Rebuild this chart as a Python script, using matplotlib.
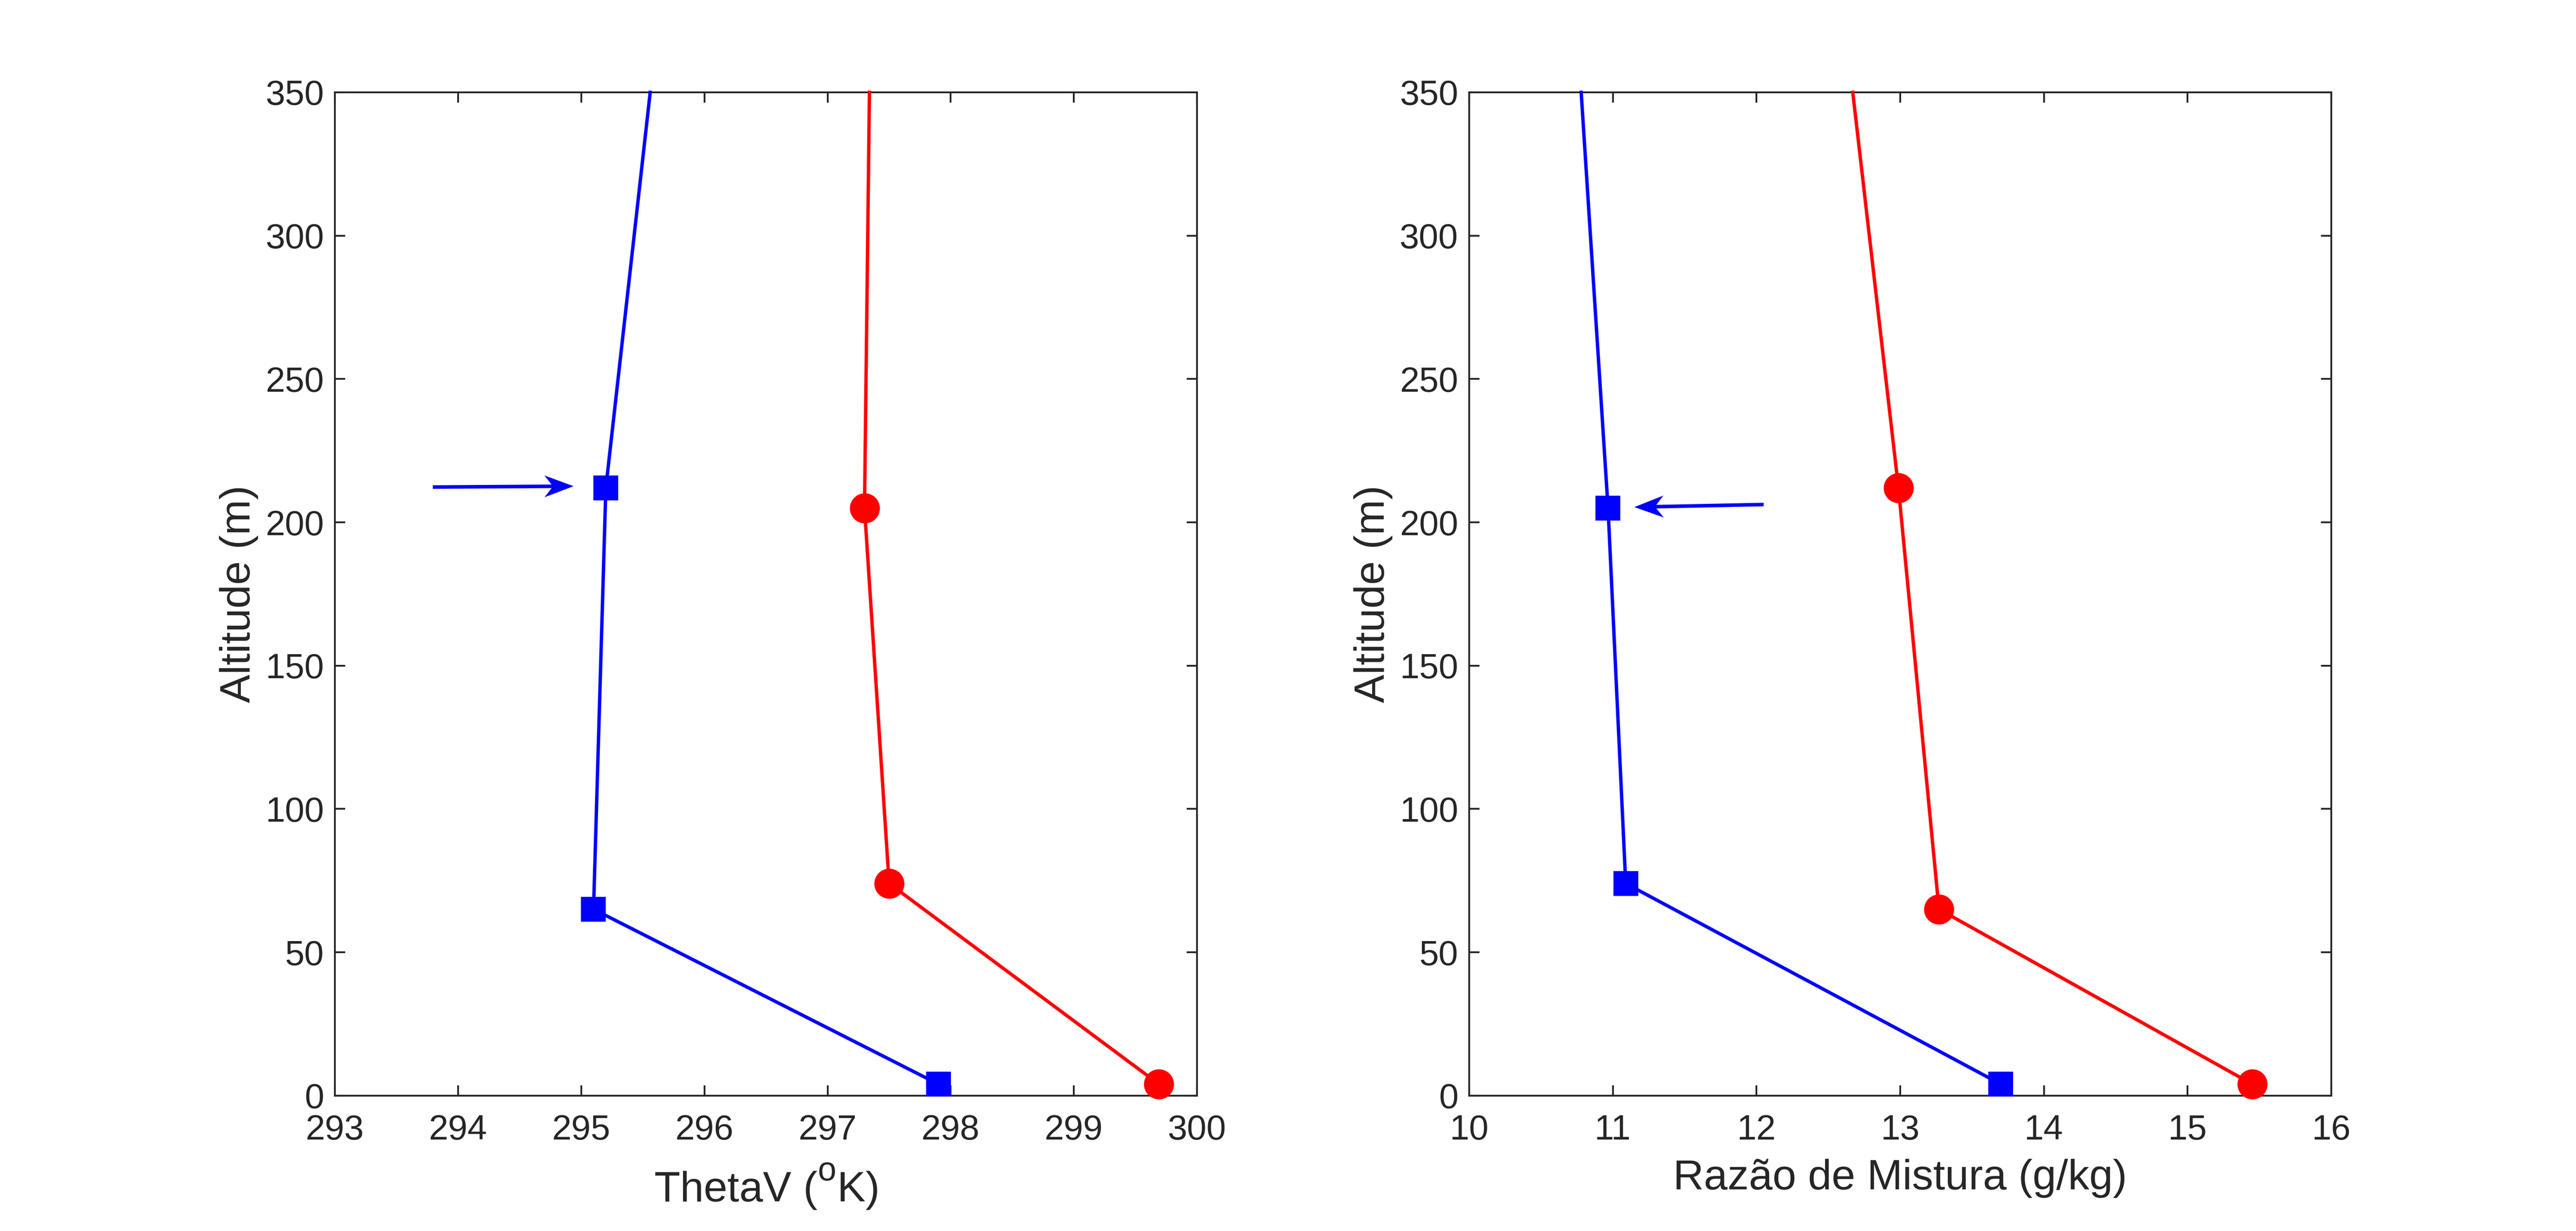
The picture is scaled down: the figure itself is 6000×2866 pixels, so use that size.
import numpy as np
import matplotlib
matplotlib.use("Agg")
import matplotlib.pyplot as plt
from matplotlib.patches import Polygon

# Larger / higher superscript, closer to the reference "(°K)" look
try:
    import matplotlib._mathtext as _mt
    _mt.SHRINK_FACTOR = 0.78
    _mt.FontConstantsBase.sup1 = 0.95
except Exception:
    pass

# ---------------- data ----------------
# Left panel: virtual potential temperature profiles
theta_blue = [297.9, 295.1, 295.2, 295.56]
alt_theta_blue = [4, 65, 212, 350]
theta_red = [299.69, 297.5, 297.3, 297.34]
alt_theta_red = [4, 74, 205, 350]
theta_arrow_x = [293.795, 294.938]   # tail, tip
theta_arrow_y = [212.3, 212.6]

# Right panel: mixing ratio profiles
mix_blue = [13.7, 11.09, 10.967, 10.78]
alt_mix_blue = [4, 74, 205, 350]
mix_red = [15.45, 13.27, 12.988, 12.67]
alt_mix_red = [4, 65, 212, 350]
mix_arrow_x = [12.05, 11.15]          # tail, tip
mix_arrow_y = [206.2, 205.3]

theta_ticks = [293, 294, 295, 296, 297, 298, 299, 300]
mix_ticks = [10, 11, 12, 13, 14, 15, 16]
alt_ticks = [0, 50, 100, 150, 200, 250, 300, 350]

# ---------------- style ----------------
plt.rcParams['font.family'] = ['Liberation Sans', 'DejaVu Sans']
plt.rcParams['mathtext.fontset'] = 'custom'
plt.rcParams['mathtext.rm'] = 'Liberation Sans'
plt.rcParams['mathtext.it'] = 'Liberation Sans'

AX_COLOR = (0.15, 0.15, 0.15)
TICK_FS = 9.8
LABEL_FS = 11.9
LW = 0.95
DPI = 600

fig = plt.figure(figsize=(10, 2866 / DPI), dpi=DPI)
ax1 = fig.add_axes([0.13, 0.11, 0.3347, 0.815])
ax2 = fig.add_axes([0.5703, 0.11, 0.3347, 0.815])


def style_axes(ax, xticks, xlim):
    ax.set_xlim(*xlim)
    ax.set_ylim(0, 350)
    ax.set_xticks(xticks)
    ax.set_yticks(alt_ticks)
    for sp in ax.spines.values():
        sp.set_linewidth(0.5)
        sp.set_color(AX_COLOR)
    ax.tick_params(axis='both', which='both', direction='in', length=2.9,
                   width=0.5, color=AX_COLOR, labelcolor=AX_COLOR,
                   labelsize=TICK_FS, top=True, right=True)
    ax.tick_params(axis='x', pad=5.2)
    ax.tick_params(axis='y', pad=3.0)


def draw_profile(ax, x, y, color, marker, ms):
    ax.plot(x, y, color=color, lw=LW, marker=marker, markersize=ms,
            markerfacecolor=color, markeredgecolor=color, markeredgewidth=LW,
            markevery=[0, 1, 2], clip_on=False, zorder=3)


def draw_arrow(ax, xs, ys, color):
    """MATLAB-like 'vback2' arrow: shaft + notched head (sizes in pixels)."""
    head_len, notch, half_w = 68.0, 48.0, 25.5
    trans = ax.transData
    p0 = trans.transform((xs[0], ys[0]))
    p1 = trans.transform((xs[1], ys[1]))
    d = p1 - p0
    u = d / np.hypot(*d)
    n = np.array([-u[1], u[0]])
    back = p1 - u * head_len
    notch_pt = p1 - u * notch
    head_disp = np.array([p1, back + n * half_w, notch_pt, back - n * half_w])
    inv = trans.inverted()
    head_data = inv.transform(head_disp)
    shaft_end = inv.transform(notch_pt + u * 4)
    ax.plot([xs[0], shaft_end[0]], [ys[0], shaft_end[1]], color=color,
            lw=1.0, solid_capstyle='butt', zorder=4)
    ax.add_patch(Polygon(head_data, closed=True, facecolor=color,
                         edgecolor='none', zorder=5))


# Left panel
style_axes(ax1, theta_ticks, (293, 300))
draw_profile(ax1, theta_blue, alt_theta_blue, 'blue', 's', 5.9)
draw_profile(ax1, theta_red, alt_theta_red, 'red', 'o', 7.45)
draw_arrow(ax1, theta_arrow_x, theta_arrow_y, 'blue')
ax1.set_xlabel(r'ThetaV ($^{\rm o}$K)', fontsize=LABEL_FS, color=AX_COLOR)
ax1.set_ylabel('Altitude (m)', fontsize=LABEL_FS, color=AX_COLOR)
ax1.xaxis.set_label_coords(0.5, -248 / 2336)
ax1.xaxis.label.set_va('baseline')
ax1.yaxis.set_label_coords(-198 / 2008, 0.5)
ax1.yaxis.label.set_va('baseline')

# Right panel
style_axes(ax2, mix_ticks, (10, 16))
draw_profile(ax2, mix_blue, alt_mix_blue, 'blue', 's', 5.9)
draw_profile(ax2, mix_red, alt_mix_red, 'red', 'o', 7.45)
draw_arrow(ax2, mix_arrow_x, mix_arrow_y, 'blue')
ax2.set_xlabel('Razão de Mistura (g/kg)', fontsize=LABEL_FS, color=AX_COLOR)
ax2.set_ylabel('Altitude (m)', fontsize=LABEL_FS, color=AX_COLOR)
ax2.xaxis.set_label_coords(0.5, -218 / 2336)
ax2.xaxis.label.set_va('baseline')
ax2.yaxis.set_label_coords(-198 / 2008, 0.5)
ax2.yaxis.label.set_va('baseline')

fig.savefig('out.png', dpi=DPI, facecolor='white')
